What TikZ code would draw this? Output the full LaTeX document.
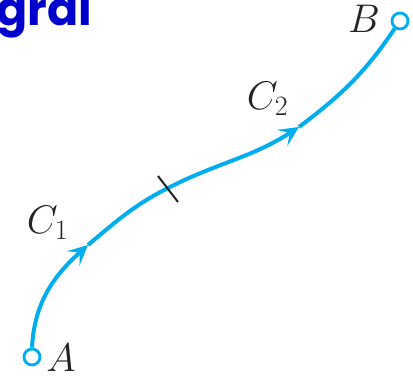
\RequirePackage{fix-cm}
\documentclass[tikz,border=0pt]{standalone}
\usepackage{fontspec}
\newfontfamily\headfont{Poppins}
\usetikzlibrary{arrows.meta}
\definecolor{curvecol}{RGB}{0,174,239}
\definecolor{headcol}{RGB}{0,0,204}
\definecolor{labcol}{RGB}{35,35,35}
\begin{document}
\begin{tikzpicture}[x=1pt,y=1pt,
  curve/.style={draw=curvecol,line width=4pt},
  endpt/.style={circle,draw=curvecol,line width=2.8pt,fill=white,minimum size=16pt,inner sep=0pt},
  lab/.style={text=labcol,inner sep=0pt,font=\fontsize{40}{44}\selectfont},
  arr/.style={-{Stealth[length=20pt,width=19pt,inset=9pt]}},
  tickmark/.style={draw=labcol,line width=2pt}]
\useasboundingbox (0,0) rectangle (413,378);
\clip (0,0) rectangle (413,378);
\node[anchor=base west,inner sep=0pt,text=headcol,font=\headfont\bfseries\fontsize{46}{50}\selectfont] (head) at (-4,352) {gral};
\coordinate (P1) at (88,133);
\coordinate (T) at (168,190);
\coordinate (P2) at (299,251);
\node[endpt] (A) at (32,21) {};
\node[endpt] (B) at (400,357) {};
\draw[curve,arr] (A.north) to[out=87,in=222] (P1);
\draw[curve] (P1) to[out=40,in=207] (T);
\draw[curve,arr] (T) to[out=27,in=213] (P2);
\draw[curve] (P2) to[out=37,in=236] (B.235);
\coordinate (T1) at (158,202);
\coordinate (T2) at (178,176);
\draw[tickmark] (T1) -- (T2);
\node[lab] (c1) at (47.5,155.5) {$C_1$};
\node[lab] (c2) at (267.5,279) {$C_2$};
\node[lab] (lb) at (364,359) {$B$};
\node[lab] (la) at (61,20) {$A$};
\end{tikzpicture}
\end{document}
